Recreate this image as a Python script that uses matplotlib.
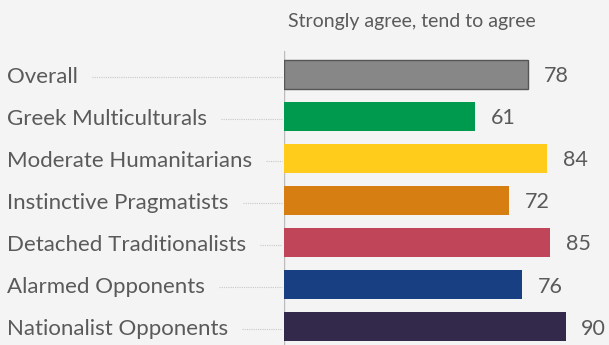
import matplotlib.pyplot as plt
from matplotlib.transforms import blended_transform_factory

# data
groups = [
    "Overall",
    "Greek Multiculturals",
    "Moderate Humanitarians",
    "Instinctive Pragmatists",
    "Detached Traditionalists",
    "Alarmed Opponents",
    "Nationalist Opponents",
]
values = [78, 61, 84, 72, 85, 76, 90]
colors = ["#878787", "#009a4e", "#ffcc1c", "#d77e12", "#c04558", "#173f82", "#33294a"]
title = "Strongly agree, tend to agree"

BG = "#f4f4f4"
TXT = "#5a5a5a"
FONT = "Lato"

W, H = 609, 345
fig = plt.figure(figsize=(W / 100, H / 100), dpi=100, facecolor=BG)
ax = fig.add_axes([284 / W, 0, 313 / W, 294 / H], facecolor=BG)

y = list(range(len(groups)))
bars = ax.barh(y, values, height=0.69, color=colors)
bars[0].set_edgecolor("#555555")
bars[0].set_linewidth(1.0)

ax.set_xlim(0, 100)
ax.set_ylim(6.43, -0.56)
ax.axis("off")
ax.axvline(0, color="#bbbbbb", lw=1.0, zorder=0)

for yi, v in zip(y, values):
    ax.text(v + 5, yi + 0.04, str(v), va="center", ha="left", fontsize=15.5,
            color=TXT, family=FONT)

trans = blended_transform_factory(fig.transFigure, ax.transData)
fig.canvas.draw()
renderer = fig.canvas.get_renderer()
for yi, name in zip(y, groups):
    t = fig.text(7 / W, 0, name, transform=trans, fontsize=16, color=TXT,
                 family=FONT, va="center", ha="left")
    t.set_y(yi + 0.06)
    bb = t.get_window_extent(renderer)
    x0 = (bb.x1 + 14) / W
    fig.add_artist(plt.Line2D([x0, 282 / W], [yi + 0.05, yi + 0.05], transform=trans,
                              color="#c8c8c8", lw=0.8, ls=(0, (1, 1))))

fig.text(288 / W, 1 - 21 / H, title, fontsize=14, color=TXT, family=FONT,
         va="center", ha="left")

fig.savefig("out.png", dpi=100, facecolor=BG)
